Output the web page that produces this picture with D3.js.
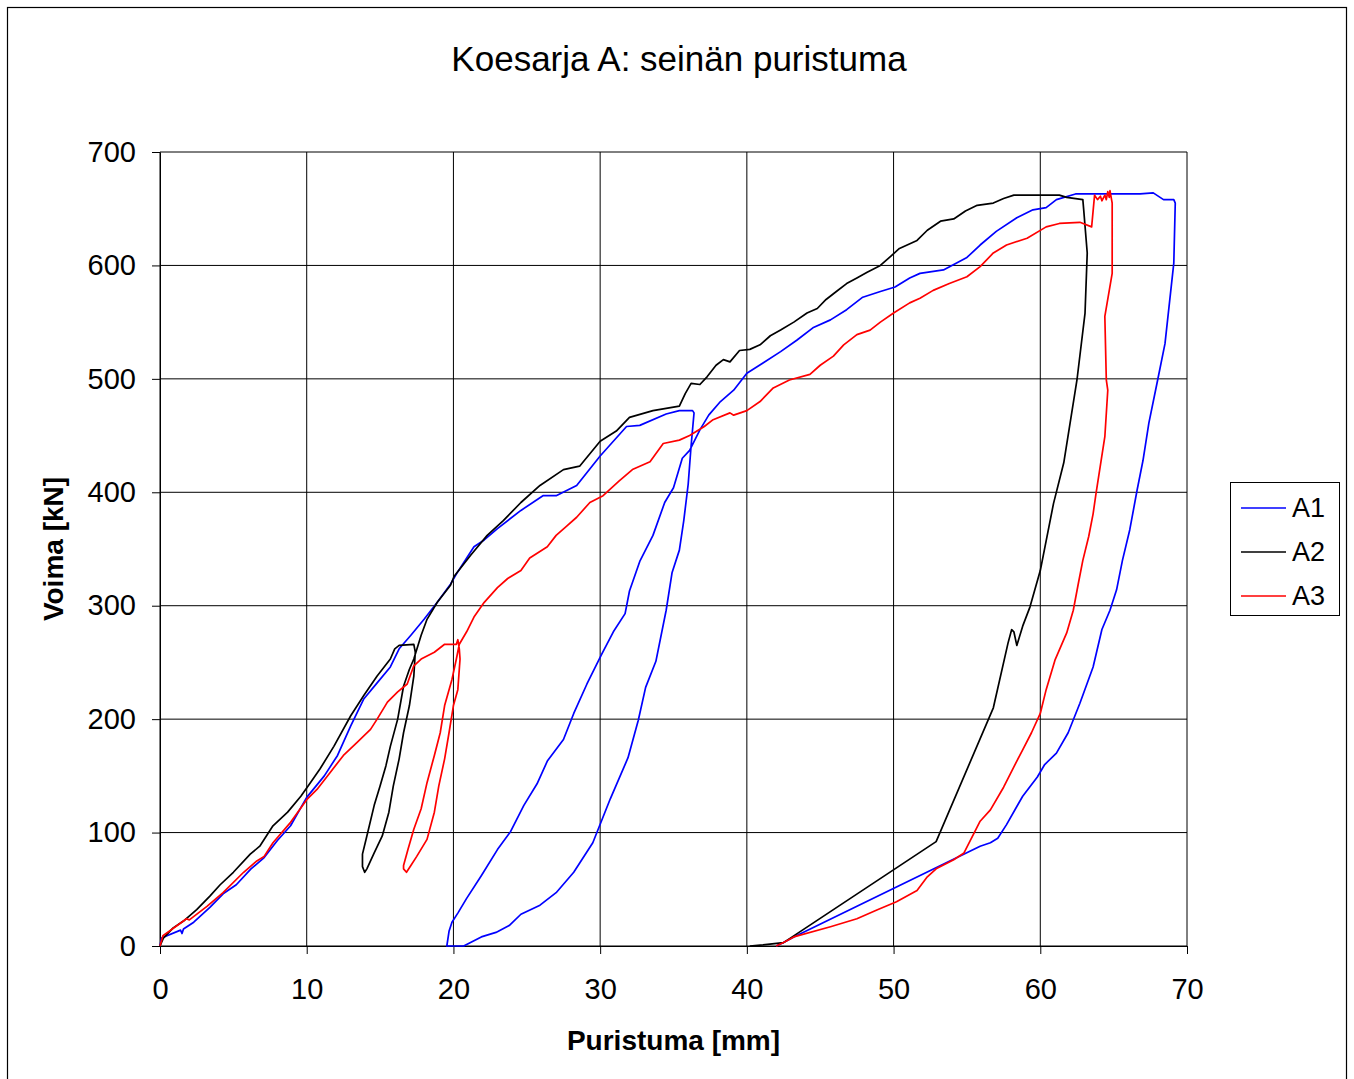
<!DOCTYPE html>
<html>
<head>
<meta charset="utf-8">
<script src="https://cdn.jsdelivr.net/npm/d3@7"></script>
<style>
  body { margin: 0; background: #fff; }
  text { font-family: "Liberation Sans", Arial, sans-serif; }
</style>
</head>
<body>
<div class="chart"></div>
<script>

// [puristuma mm, voima kN]
var a1Points = [
  [0,0],[0.1,7],[1.4,14],[1.5,11],[1.6,15],[2.3,21],[3.4,34],[4.3,46],[5.2,54],[6.2,68],[7.1,78],[8.0,93],[8.9,106],
  [10.0,131],[11.2,150],[12.1,168],[13.0,194],[13.9,218],[14.8,232],[15.7,246],[16.3,262],[17.1,274],[18.0,288],
  [18.9,303],[19.8,319],[20.3,330],[21.4,352],[22.1,358],[23.0,368],[24.6,384],[26.1,397],[27.0,397],[28.4,406],
  [30.0,432],[31.8,458],[32.7,459],[34.5,469],[35.4,472],[36.3,472],[36.4,470],
  [36.2,441],[36.0,407],[35.7,375],[35.4,349],[34.9,329],[34.5,296],[33.8,251],[33.1,228],[32.6,199],[31.9,166],
  [30.7,130],[29.5,91],[28.2,65],[27.0,47],[25.9,36],[24.6,28],[23.8,18],[22.9,12],[21.9,8],[20.7,0],[19.55,0],
  [19.7,13],[19.9,21],[20.3,29],[20.9,42],[21.9,62],[23.0,85],[23.9,101],[24.8,124],[25.7,143],[26.4,163],
  [27.5,182],[28.2,205],[29.1,231],[30.1,257],[30.9,277],[31.7,293],[32.0,313],[32.7,339],[33.6,362],[34.4,391],
  [35.0,404],[35.6,430],[36.1,437],[36.8,455],[37.4,468],[38.2,480],[39.1,490],[40.0,505],[41.1,514],[42.3,524],
  [43.4,534],[44.5,545],[45.7,552],[46.8,561],[47.9,572],[49.1,577],[50.1,581],[51.1,589],[51.8,593],[53.4,596],
  [55.0,607],[55.9,618],[57.0,630],[58.4,642],[59.5,649],[60.4,651],[61.1,658],[62.4,663],[63.8,663],[66.8,663],
  [67.7,664],[68.4,658],[69.1,658],[69.2,655],
  [69.1,602],[68.5,531],[68.0,499],[67.4,461],[67.0,428],[66.6,402],[66.1,367],[65.6,340],[65.2,314],[64.75,296],
  [64.2,279],[63.6,246],[62.7,214],[61.9,188],[61.1,170],[60.3,160],[59.8,149],[58.8,132],[58.4,123],[57.7,107],
  [57.1,95],[56.6,91],[55.9,88],[43.2,8],[42.5,3],[42.0,0]
];

var a2Points = [
  [0,0],[0.23,7],[0.9,16],[1.6,22],[2.5,32],[3.4,44],[4.1,54],[5.0,65],[6.15,81],[6.8,88],[7.7,106],[8.7,118],
  [9.6,132],[10.25,144],[10.9,156],[11.85,176],[13.0,203],[13.9,221],[14.8,238],[15.7,253],[16.0,262],[16.3,265],
  [17.3,266],[17.4,259],[17.3,238],[17.0,212],[16.6,188],[16.3,165],[15.9,141],[15.6,118],[15.15,97],[14.6,82],
  [14.1,68],[13.95,65],[13.8,70],[13.8,81],[14.1,97],[14.6,124],[15.0,141],[15.4,159],[15.7,176],[16.2,200],
  [16.6,229],[17.0,244],[17.3,253],[17.8,274],[18.2,288],[18.9,303],[19.8,318],[20.05,326],[21.2,345],[22.3,362],
  [23.4,375],[24.6,391],[25.9,406],[27.5,420],[28.6,423],[30.0,445],[31.1,454],[32.0,466],[33.6,472],[35.4,476],
  [35.8,487],[36.2,496],[36.8,495],[37.3,502],[37.9,512],[38.4,517],[38.85,515],[39.5,525],[40.2,526],[40.9,530],
  [41.6,538],[42.3,543],[43.2,550],[44.1,558],[44.8,562],[45.4,570],[46.1,577],[46.8,584],[47.5,589],[48.2,594],
  [49.1,600],[49.8,608],[50.4,615],[51.6,622],[52.3,631],[53.2,639],[54.1,641],[54.9,648],[55.7,653],[56.8,655],
  [57.5,659],[58.2,662],[61.3,662],[61.8,660],[62.9,658],[62.96,649],[63.2,611],[63.05,558],[62.5,499],[61.6,426],
  [60.9,390],[60.0,331],[59.3,299],[58.8,282],[58.4,265],[58.2,277],[58.05,279],[57.8,267],[56.8,210],[52.9,92],
  [42.5,3],[41.1,1],[40.2,0]
];

var a3Points = [
  [0,0],[0.2,9],[1.6,22],[1.8,24],[2.0,23],[3.2,35],[4.3,47],[5.7,65],[6.6,75],[7.1,79],[7.7,91],[8.9,109],
  [10.0,129],[10.7,138],[11.6,153],[12.5,168],[13.4,179],[14.35,191],[14.8,200],[15.5,215],[16.2,224],[16.85,231],
  [17.3,247],[17.8,253],[18.7,259],[19.4,266],[20.2,266],[20.3,270],[20.4,262],[20.45,253],[20.3,226],[20.0,212],
  [19.7,188],[19.4,165],[19.0,141],[18.7,118],[18.2,94],[17.5,79],[17.1,71],[16.8,65],[16.6,68],[16.6,71],
  [16.9,85],[17.3,103],[17.8,121],[18.2,144],[18.7,168],[19.1,188],[19.4,212],[19.9,235],[20.2,253],[20.4,266],
  [20.9,277],[21.4,290],[22.1,303],[23.0,316],[23.7,324],[24.6,331],[25.2,342],[26.4,352],[27.0,362],[27.7,370],
  [28.4,378],[29.3,391],[30.2,397],[31.3,410],[32.2,420],[33.4,427],[34.3,443],[35.4,446],[36.1,450],[37.1,458],
  [37.7,464],[38.85,470],[39.1,468],[40.0,472],[40.9,480],[41.8,492],[42.9,499],[44.3,504],[45.0,512],[45.9,520],
  [46.6,530],[47.5,539],[48.4,543],[49.1,550],[50.0,558],[51.1,567],[51.8,571],[52.7,578],[53.8,584],[55.0,590],
  [55.9,599],[56.8,611],[57.7,618],[59.1,624],[60.4,634],[61.3,637],[62.7,638],[63.5,634],[63.7,662],[63.9,658],
  [64.1,661],[64.2,657],[64.4,662],[64.5,658],[64.6,665],[64.7,660],[64.75,666],[64.9,655],[64.9,614],[64.9,593],
  [64.4,555],[64.5,499],[64.6,490],[64.4,449],[63.8,399],[63.6,381],[63.3,361],[62.9,340],[62.6,320],[62.25,296],
  [61.8,276],[61.0,252],[60.4,226],[60.0,205],[59.4,188],[58.8,173],[58.2,158],[57.5,140],[56.6,120],[55.9,110],
  [54.8,82],[54.1,76],[52.9,68],[52.3,61],[51.6,49],[50.2,39],[48.9,32],[47.5,24],[45.7,17],[43.2,8],[42.5,3],[42.0,0]
];

var seriesNames = ["A1", "A2", "A3"];
var seriesColors = ["#0000ff", "#000000", "#ff0000"];
var xTicks = [0, 10, 20, 30, 40, 50, 60, 70];
var yTicks = [0, 100, 200, 300, 400, 500, 600, 700];

var width = 1354, height = 1079;
var plot = {left: 160, right: 1187, top: 152, bottom: 946};

var svg = d3.select(".chart").append("svg")
  .attr("width", width)
  .attr("height", height);

svg.append("rect")
  .attr("x", 0).attr("y", 0)
  .attr("width", width).attr("height", height)
  .attr("fill", "#fff");

// outer chart frame
svg.append("rect")
  .attr("x", 7.5).attr("y", 7.5)
  .attr("width", 1339).attr("height", 1090)
  .attr("fill", "none")
  .attr("stroke", "#000")
  .attr("stroke-width", 1.2);

var x = d3.scaleLinear().domain([0, 70]).range([plot.left, plot.right]);
var y = d3.scaleLinear().domain([0, 700]).range([plot.bottom, plot.top]);

// grid
svg.append("g").selectAll("line").data(xTicks).enter().append("line")
  .attr("x1", function(d) { return x(d); })
  .attr("x2", function(d) { return x(d); })
  .attr("y1", plot.top).attr("y2", plot.bottom)
  .attr("stroke", "#000").attr("stroke-width", 1);

svg.append("g").selectAll("line").data(yTicks).enter().append("line")
  .attr("y1", function(d) { return y(d); })
  .attr("y2", function(d) { return y(d); })
  .attr("x1", plot.left).attr("x2", plot.right)
  .attr("stroke", "#000").attr("stroke-width", 1);

var xAxis = svg.append("g")
  .attr("transform", "translate(0," + plot.bottom + ")")
  .call(d3.axisBottom(x).tickValues(xTicks).tickSize(8).tickSizeOuter(0).tickPadding(24));

var yAxis = svg.append("g")
  .attr("transform", "translate(" + plot.left + ",0)")
  .call(d3.axisLeft(y).tickValues(yTicks).tickSize(8).tickSizeOuter(0).tickPadding(16));

[xAxis, yAxis].forEach(function(ax) {
  ax.selectAll("text")
    .attr("font-family", "Liberation Sans, Arial, sans-serif")
    .attr("font-size", 29)
    .attr("fill", "#000");
  ax.selectAll("line").attr("stroke", "#000");
  ax.select(".domain").attr("stroke", "#000");
});

// curves
var line = d3.line()
  .x(function(d) { return x(d[0]); })
  .y(function(d) { return y(d[1]); });

var allSeries = [a1Points, a2Points, a3Points];
svg.append("g").selectAll("path").data(allSeries).enter().append("path")
  .attr("d", line)
  .attr("fill", "none")
  .attr("stroke", function(d, i) { return seriesColors[i]; })
  .attr("stroke-width", 1.7)
  .attr("stroke-linejoin", "round");

// title and axis titles
svg.append("text")
  .attr("x", 679).attr("y", 71)
  .attr("text-anchor", "middle")
  .attr("font-size", 35)
  .text("Koesarja A: seinän puristuma");

svg.append("text")
  .attr("x", (plot.left + plot.right) / 2).attr("y", 1050)
  .attr("text-anchor", "middle")
  .attr("font-size", 28)
  .attr("font-weight", "bold")
  .text("Puristuma [mm]");

svg.append("text")
  .attr("transform", "translate(63," + (plot.top + plot.bottom) / 2 + ") rotate(-90)")
  .attr("text-anchor", "middle")
  .attr("font-size", 28)
  .attr("font-weight", "bold")
  .text("Voima [kN]");

// legend
var legend = svg.append("g");
legend.append("rect")
  .attr("x", 1230.5).attr("y", 482.5)
  .attr("width", 109).attr("height", 133)
  .attr("fill", "#fff")
  .attr("stroke", "#000")
  .attr("stroke-width", 1);

var item = legend.selectAll("g.item").data(seriesNames).enter().append("g")
  .attr("class", "item")
  .attr("transform", function(d, i) { return "translate(0," + (508 + i * 44) + ")"; });

item.append("line")
  .attr("x1", 1241).attr("x2", 1286)
  .attr("stroke", function(d, i) { return seriesColors[i]; })
  .attr("stroke-width", 1.6);

item.append("text")
  .attr("x", 1292).attr("dy", "0.35em")
  .attr("font-size", 27)
  .text(function(d) { return d; });

</script>
</body>
</html>
